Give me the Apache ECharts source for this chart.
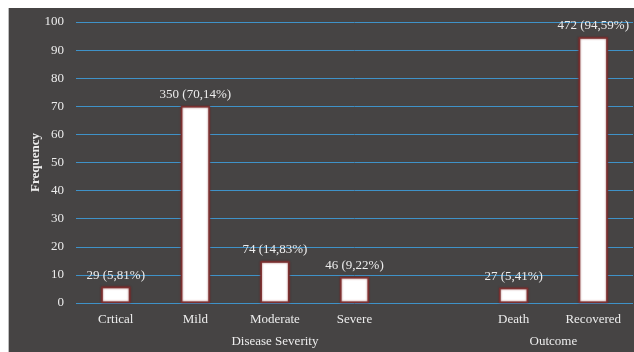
<!DOCTYPE html>
<html>
<head>
<meta charset="utf-8">
<script src="https://cdn.jsdelivr.net/npm/echarts@6/dist/echarts.min.js"></script>
<style>
  html, body { margin: 0; padding: 0; background: #ffffff; }
  #wrap { position: absolute; left: 8px; top: 8px; width: 626px; height: 344px;
          border-left: 1px solid #bdbdbd; box-sizing: border-box; }
  #chart { width: 100%; height: 100%; }
</style>
</head>
<body>
<div id="wrap"><div id="chart"></div></div>
<script>
// Category slots (the empty slot separates the two groups)
const categories = ['Crtical', 'Mild', 'Moderate', 'Severe', '', 'Death', 'Recovered'];
// Patient counts per category
const counts = [29, 350, 74, 46, null, 27, 472];
// Share of patients (%) per category; bar heights use these
const percents = [5.81, 70.14, 14.83, 9.22, null, 5.41, 94.59];
// Group headings and the category slots each one covers
const groupNames = ['Disease Severity', 'Outcome'];
const groupSpans = [[0, 4], [5, 6]];
const yTicks = { min: 0, max: 100, interval: 10 };

const FONT = '"Liberation Serif", "Times New Roman", serif';
const TEXT = '#ececec';

const chart = echarts.init(document.getElementById('chart'), null, { renderer: 'canvas' });

function fmtPct(v) {
  return v.toFixed(2).replace('.', ',') + '%';
}

const option = {
  backgroundColor: '#464444',
  animation: false,
  grid: { left: 67, right: 1, top: 14, bottom: 49, containLabel: false },
  xAxis: {
    type: 'category',
    data: categories,
    axisLine: { show: false },
    axisTick: { show: false },
    axisLabel: { color: TEXT, fontFamily: FONT, fontSize: 13, margin: 10, interval: 0 }
  },
  yAxis: {
    type: 'value',
    min: yTicks.min, max: yTicks.max, interval: yTicks.interval,
    name: 'Frequency',
    nameLocation: 'middle',
    nameGap: 34,
    nameMoveOverlap: false,
    nameTextStyle: { color: TEXT, fontFamily: FONT, fontSize: 13, fontWeight: 'bold' },
    axisLine: { show: false },
    axisTick: { show: false },
    axisLabel: { color: TEXT, fontFamily: FONT, fontSize: 13, margin: 12 },
    splitLine: { lineStyle: { color: '#3f92c8', width: 1 } }
  },
  series: [{
    type: 'bar',
    data: percents,
    barWidth: 29,
    itemStyle: {
      color: '#ffffff',
      borderColor: '#7b3030',
      borderWidth: 1.5,
      shadowColor: 'rgba(120,30,30,0.8)',
      shadowBlur: 2
    },
    label: {
      show: true,
      position: 'top',
      distance: 5,
      color: TEXT,
      fontFamily: FONT,
      fontSize: 13,
      formatter: p => p.value == null ? '' : counts[p.dataIndex] + ' (' + fmtPct(p.value) + ')'
    }
  }]
};

chart.setOption(option);

// Group headings placed under the centre of the slots they cover
const groupY = chart.convertToPixel({ yAxisIndex: 0 }, 0) + 39;
chart.setOption({
  graphic: groupNames.map((name, i) => {
    const a = chart.convertToPixel({ xAxisIndex: 0 }, groupSpans[i][0]);
    const b = chart.convertToPixel({ xAxisIndex: 0 }, groupSpans[i][1]);
    return {
      type: 'text',
      x: (a + b) / 2,
      y: groupY,
      style: {
        text: name, fill: TEXT, font: '13px ' + FONT,
        textAlign: 'center', textVerticalAlign: 'middle'
      }
    };
  })
});
</script>
</body>
</html>
